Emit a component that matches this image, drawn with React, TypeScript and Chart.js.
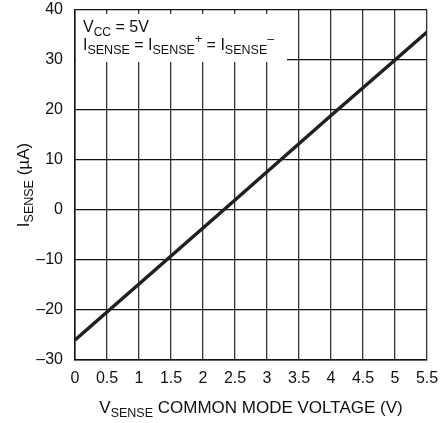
import React, { useEffect, useRef } from "react";
import { Chart, registerables } from "chart.js";

Chart.register(...registerables);

// ---- data ----
const vSense = [0, 0.5, 1, 2.5, 4, 5, 5.5];
const iSense = [-26, -20.4, -14.8, 2, 18.9, 30, 35.6];

const xMin = 0;
const xMax = 5.5;
const xStep = 0.5;
const yMin = -30;
const yMax = 40;
const yStep = 10;

type Seg = { t: string; k: number }; // k: 0 normal, 1 subscript, 2 superscript
const noteLine1: Seg[] = [
  { t: "V", k: 0 },
  { t: "CC", k: 1 },
  { t: " = 5V", k: 0 },
];
const noteLine2: Seg[] = [
  { t: "I", k: 0 },
  { t: "SENSE", k: 1 },
  { t: " = I", k: 0 },
  { t: "SENSE", k: 1 },
  { t: "+", k: 2 },
  { t: " = I", k: 0 },
  { t: "SENSE", k: 1 },
  { t: "\u2013", k: 2 },
];
const xTitle: Seg[] = [
  { t: "V", k: 0 },
  { t: "SENSE", k: 1 },
  { t: " COMMON MODE VOLTAGE (V)", k: 0 },
];
const yTitle: Seg[] = [
  { t: "I", k: 0 },
  { t: "SENSE", k: 1 },
  { t: " (\u00B5A)", k: 0 },
];

const FAM = '"Liberation Sans", Arial, sans-serif';

function segFont(k: number, size: number, sub: number) {
  return `${k === 0 ? size : sub}px ${FAM}`;
}

function measureRich(ctx: CanvasRenderingContext2D, segs: Seg[], size: number, sub: number) {
  let w = 0;
  for (const s of segs) {
    ctx.font = segFont(s.k, size, sub);
    w += ctx.measureText(s.t).width;
  }
  return w;
}

function drawRich(
  ctx: CanvasRenderingContext2D,
  segs: Seg[],
  x: number,
  y: number,
  size: number,
  sub: number
) {
  ctx.textBaseline = "alphabetic";
  ctx.textAlign = "left";
  let cx = x;
  for (const s of segs) {
    ctx.font = segFont(s.k, size, sub);
    const dy = s.k === 1 ? size * 0.22 : s.k === 2 ? -size * 0.42 : 0;
    ctx.fillText(s.t, cx, y + dy);
    cx += ctx.measureText(s.t).width;
  }
}

const annotPlugin = {
  id: "annotPlugin",
  afterDraw(chart: any) {
    const ctx: CanvasRenderingContext2D = chart.ctx;
    const { left, right, top, bottom } = chart.chartArea;
    ctx.save();
    // note box
    ctx.fillStyle = "#ffffff";
    ctx.fillRect(left + 1, top + 4, 287 - left - 1, 62 - top - 4);
    ctx.fillStyle = "#111111";
    drawRich(ctx, noteLine1, 83, 32, 16, 12);
    drawRich(ctx, noteLine2, 83, 50, 16, 12.5);

    // x title
    const wx = measureRich(ctx, xTitle, 17, 12.5);
    drawRich(ctx, xTitle, (left + right) / 2 - wx / 2, 413, 17, 12.5);

    // y title (rotated)
    const wy = measureRich(ctx, yTitle, 17, 12.5);
    ctx.translate(29, (top + bottom) / 2);
    ctx.rotate(-Math.PI / 2);
    drawRich(ctx, yTitle, -wy / 2, 0, 17, 12.5);
    ctx.restore();
  },
};

export default function App() {
  const ref = useRef<HTMLCanvasElement | null>(null);

  useEffect(() => {
    if (!ref.current) return;
    const points = vSense.map((v, i) => ({ x: v, y: iSense[i] }));
    const chart = new Chart(ref.current, {
      type: "scatter",
      data: {
        datasets: [
          {
            data: points,
            showLine: true,
            borderColor: "#231f20",
            borderWidth: 3.5,
            pointRadius: 0,
            fill: false,
          },
        ],
      },
      options: {
        animation: false,
        responsive: false,
        devicePixelRatio: 1,
        layout: { autoPadding: false, padding: { top: 10, right: 16, bottom: 0, left: 0 } },
        plugins: {
          legend: { display: false },
          tooltip: { enabled: false },
        },
        scales: {
          x: {
            type: "linear",
            min: xMin,
            max: xMax,
            border: { display: true, color: "#111", width: 1.5 },
            grid: { color: "#333", lineWidth: 1.3, drawTicks: false },
            ticks: {
              stepSize: xStep,
              color: "#111",
              padding: 9,
              maxRotation: 0,
              autoSkip: false,
              font: { family: FAM, size: 16 },
              callback: (v: any) => String(v),
            },
            afterFit: (s: any) => {
              s.height = 63;
              s.paddingLeft = 0;
              s.paddingRight = 0;
            },
          },
          y: {
            type: "linear",
            min: yMin,
            max: yMax,
            border: { display: true, color: "#111", width: 1.5 },
            grid: { color: "#111", lineWidth: 1.2, drawTicks: false },
            ticks: {
              stepSize: yStep,
              color: "#111",
              padding: 12,
              autoSkip: false,
              font: { family: FAM, size: 16 },
              callback: (v: any) => (Number(v) < 0 ? "\u2013" + Math.abs(Number(v)) : String(v)),
            },
            afterFit: (s: any) => {
              s.width = 75;
              s.paddingTop = 0;
              s.paddingBottom = 0;
            },
          },
        },
      },
      plugins: [annotPlugin],
    } as any);
    return () => chart.destroy();
  }, []);

  return (
    <div style={{ position: "fixed", left: 0, top: 0, width: 443, height: 423, background: "#fff" }}>
      <canvas ref={ref} width={443} height={423} style={{ display: "block" }} />
    </div>
  );
}
